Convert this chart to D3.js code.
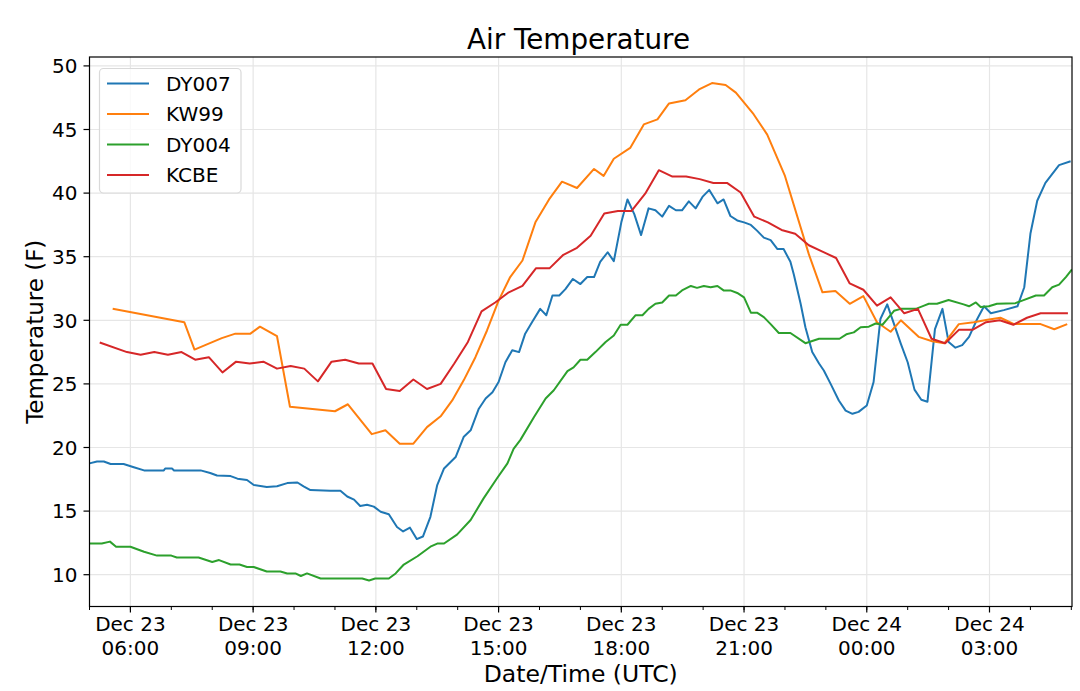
<!DOCTYPE html>
<html>
<head>
    <meta charset="utf-8"/>
    <title>Air Temperature</title>
    <script src="https://d3js.org/d3.v7.min.js"></script>
    <style>
        body { margin: 0; background: #fff; }
        svg text { font-family: "DejaVu Sans", sans-serif; fill: #000; }
    </style>
</head>
<body>
<div id="chart"></div>
<script>
    // Data (times are UTC, "MM-DD HH:MM")
    var dy007Times = ["12-23 05:00","12-23 05:11","12-23 05:21","12-23 05:31","12-23 05:50","12-23 06:05","12-23 06:20","12-23 06:49","12-23 06:51","12-23 07:01","12-23 07:04","12-23 07:43","12-23 07:57","12-23 08:07","12-23 08:27","12-23 08:37","12-23 08:51","12-23 09:01","12-23 09:20","12-23 09:35","12-23 09:50","12-23 10:05","12-23 10:14","12-23 10:24","12-23 10:53","12-23 11:08","12-23 11:18","12-23 11:28","12-23 11:37","12-23 11:47","12-23 11:57","12-23 12:07","12-23 12:19","12-23 12:31","12-23 12:40","12-23 12:50","12-23 13:00","12-23 13:09","12-23 13:20","12-23 13:30","12-23 13:40","12-23 13:57","12-23 14:09","12-23 14:19","12-23 14:31","12-23 14:41","12-23 14:51","12-23 15:00","12-23 15:10","12-23 15:20","12-23 15:30","12-23 15:39","12-23 15:49","12-23 16:01","12-23 16:10","12-23 16:19","12-23 16:29","12-23 16:38","12-23 16:49","12-23 17:00","12-23 17:10","12-23 17:20","12-23 17:29","12-23 17:40","12-23 17:49","12-23 18:00","12-23 18:09","12-23 18:19","12-23 18:29","12-23 18:40","12-23 18:50","12-23 19:00","12-23 19:10","12-23 19:20","12-23 19:29","12-23 19:39","12-23 19:49","12-23 19:59","12-23 20:09","12-23 20:21","12-23 20:30","12-23 20:40","12-23 20:50","12-23 21:00","12-23 21:10","12-23 21:19","12-23 21:29","12-23 21:39","12-23 21:49","12-23 21:58","12-23 22:08","12-23 22:13","12-23 22:23","12-23 22:30","12-23 22:40","12-23 22:50","12-23 22:57","12-23 23:07","12-23 23:19","12-23 23:29","12-23 23:39","12-23 23:48","12-24 00:00","12-24 00:10","12-24 00:20","12-24 00:30","12-24 00:40","12-24 00:50","12-24 01:00","12-24 01:10","12-24 01:20","12-24 01:29","12-24 01:40","12-24 01:51","12-24 02:00","12-24 02:10","12-24 02:20","12-24 02:30","12-24 02:42","12-24 02:52","12-24 03:02","12-24 03:21","12-24 03:41","12-24 03:51","12-24 04:00","12-24 04:10","12-24 04:22","12-24 04:42","12-24 04:59"];
    var dy007Temps = [18.75,18.9,18.9,18.7,18.7,18.45,18.2,18.2,18.35,18.35,18.2,18.2,18.0,17.8,17.75,17.55,17.45,17.05,16.9,16.95,17.2,17.25,16.95,16.65,16.6,16.6,16.15,15.9,15.4,15.5,15.35,14.95,14.75,13.75,13.4,13.7,12.8,13.0,14.55,17.05,18.35,19.25,20.85,21.35,23.05,23.85,24.35,25.15,26.7,27.65,27.5,28.95,29.85,30.9,30.4,31.95,31.95,32.45,33.25,32.85,33.4,33.4,34.6,35.35,34.65,37.7,39.5,38.35,36.7,38.8,38.65,38.15,39.0,38.65,38.65,39.35,38.8,39.7,40.25,39.2,39.5,38.2,37.85,37.7,37.5,37.05,36.5,36.3,35.6,35.6,34.6,33.6,31.3,29.45,27.5,26.6,26.05,25.0,23.7,22.9,22.65,22.8,23.3,25.15,30.1,31.25,29.7,28.15,26.7,24.55,23.75,23.6,29.3,30.9,28.3,27.85,28.05,28.7,30.1,31.1,30.55,30.8,31.1,32.6,36.8,39.4,40.8,42.2,42.5];

    var kw99Times = ["12-23 05:34","12-23 07:19","12-23 07:34","12-23 08:14","12-23 08:34","12-23 08:56","12-23 09:10","12-23 09:35","12-23 09:54","12-23 11:00","12-23 11:19","12-23 11:54","12-23 12:14","12-23 12:35","12-23 12:55","12-23 13:15","12-23 13:35","12-23 13:52","12-23 14:09","12-23 14:26","12-23 14:43","12-23 15:00","12-23 15:17","12-23 15:35","12-23 15:54","12-23 16:14","12-23 16:33","12-23 16:55","12-23 17:20","12-23 17:34","12-23 17:49","12-23 18:13","12-23 18:33","12-23 18:53","12-23 19:10","12-23 19:34","12-23 19:54","12-23 20:13","12-23 20:33","12-23 20:48","12-23 21:14","12-23 21:34","12-23 22:00","12-23 22:35","12-23 22:55","12-23 23:14","12-23 23:35","12-23 23:55","12-24 00:15","12-24 00:35","12-24 00:50","12-24 01:16","12-24 01:36","12-24 01:54","12-24 02:15","12-24 02:37","12-24 02:57","12-24 03:16","12-24 03:36","12-24 03:58","12-24 04:15","12-24 04:35","12-24 04:54"];
    var kw99Temps = [30.9,29.85,27.7,28.6,28.95,28.95,29.5,28.75,23.2,22.85,23.4,21.05,21.35,20.3,20.3,21.6,22.45,23.7,25.3,27.1,29.2,31.55,33.4,34.7,37.7,39.5,40.9,40.4,41.9,41.35,42.7,43.55,45.4,45.8,47.05,47.3,48.15,48.65,48.5,47.9,46.2,44.6,41.35,35.2,32.2,32.3,31.3,31.9,29.85,29.1,30.0,28.7,28.35,28.2,29.7,29.85,30.05,30.2,29.7,29.7,29.7,29.3,29.7];

    var dy004Times = ["12-23 05:00","12-23 05:18","12-23 05:30","12-23 05:39","12-23 06:00","12-23 06:20","12-23 06:39","12-23 07:00","12-23 07:08","12-23 07:40","12-23 08:00","12-23 08:10","12-23 08:27","12-23 08:40","12-23 08:51","12-23 09:01","12-23 09:20","12-23 09:40","12-23 09:50","12-23 10:02","12-23 10:10","12-23 10:19","12-23 10:39","12-23 11:40","12-23 11:50","12-23 11:59","12-23 12:19","12-23 12:29","12-23 12:41","12-23 13:01","12-23 13:20","12-23 13:30","12-23 13:40","12-23 13:59","12-23 14:19","12-23 14:38","12-23 14:58","12-23 15:13","12-23 15:22","12-23 15:32","12-23 15:52","12-23 16:09","12-23 16:21","12-23 16:41","12-23 16:50","12-23 17:00","12-23 17:10","12-23 17:22","12-23 17:37","12-23 17:49","12-23 17:59","12-23 18:09","12-23 18:21","12-23 18:31","12-23 18:40","12-23 18:50","12-23 19:00","12-23 19:10","12-23 19:20","12-23 19:29","12-23 19:42","12-23 19:51","12-23 20:01","12-23 20:11","12-23 20:21","12-23 20:30","12-23 20:40","12-23 20:50","12-23 21:00","12-23 21:10","12-23 21:19","12-23 21:29","12-23 21:39","12-23 21:51","12-23 22:08","12-23 22:30","12-23 22:50","12-23 23:20","12-23 23:30","12-23 23:41","12-23 23:51","12-24 00:03","12-24 00:13","12-24 00:23","12-24 00:30","12-24 00:40","12-24 00:50","12-24 01:12","12-24 01:24","12-24 01:31","12-24 01:43","12-24 02:00","12-24 02:22","12-24 02:30","12-24 02:40","12-24 02:47","12-24 02:59","12-24 03:11","12-24 03:38","12-24 03:48","12-24 04:08","12-24 04:20","12-24 04:32","12-24 04:42","12-24 04:52","12-24 05:01"];
    var dy004Temps = [12.45,12.45,12.6,12.2,12.2,11.8,11.5,11.5,11.35,11.35,11.0,11.15,10.8,10.8,10.6,10.6,10.25,10.25,10.1,10.1,9.9,10.1,9.7,9.7,9.55,9.7,9.7,10.1,10.8,11.45,12.2,12.45,12.45,13.15,14.3,16.0,17.6,18.75,19.9,20.6,22.4,23.85,24.5,26.0,26.3,26.9,26.9,27.5,28.3,28.8,29.65,29.65,30.4,30.4,30.9,31.3,31.4,31.95,31.95,32.35,32.7,32.55,32.7,32.6,32.7,32.35,32.35,32.15,31.8,30.6,30.6,30.25,29.7,29.0,29.0,28.2,28.55,28.55,28.9,29.05,29.45,29.5,29.75,29.65,30.1,30.75,30.9,30.9,31.15,31.3,31.3,31.6,31.25,31.1,31.4,31.05,31.1,31.3,31.35,31.55,31.95,31.95,32.6,32.8,33.4,34.0];

    var kcbeTimes = ["12-23 05:15","12-23 05:55","12-23 06:15","12-23 06:35","12-23 06:55","12-23 07:15","12-23 07:35","12-23 07:55","12-23 08:15","12-23 08:35","12-23 08:55","12-23 09:15","12-23 09:35","12-23 09:55","12-23 10:15","12-23 10:35","12-23 10:55","12-23 11:15","12-23 11:35","12-23 11:55","12-23 12:15","12-23 12:35","12-23 12:55","12-23 13:15","12-23 13:35","12-23 13:55","12-23 14:15","12-23 14:35","12-23 14:55","12-23 15:15","12-23 15:35","12-23 15:55","12-23 16:15","12-23 16:35","12-23 16:55","12-23 17:15","12-23 17:35","12-23 17:55","12-23 18:15","12-23 18:35","12-23 18:55","12-23 19:15","12-23 19:35","12-23 19:55","12-23 20:15","12-23 20:35","12-23 20:55","12-23 21:15","12-23 21:35","12-23 21:55","12-23 22:15","12-23 22:35","12-23 22:55","12-23 23:15","12-23 23:35","12-23 23:55","12-24 00:15","12-24 00:35","12-24 00:55","12-24 01:15","12-24 01:35","12-24 01:55","12-24 02:15","12-24 02:35","12-24 02:55","12-24 03:15","12-24 03:35","12-24 03:55","12-24 04:15","12-24 04:35","12-24 04:55"];
    var kcbeTemps = [28.25,27.5,27.3,27.5,27.3,27.5,26.9,27.1,25.9,26.75,26.6,26.75,26.2,26.4,26.2,25.2,26.75,26.9,26.6,26.6,24.6,24.45,25.35,24.6,25.0,26.6,28.3,30.7,31.4,32.2,32.7,34.1,34.1,35.15,35.7,36.65,38.4,38.6,38.6,39.95,41.8,41.3,41.3,41.1,40.8,40.8,40.05,38.15,37.7,37.1,36.8,35.9,35.4,34.9,32.9,32.4,31.15,31.8,30.55,30.9,28.55,28.2,29.25,29.25,29.85,30.0,29.65,30.2,30.55,30.55,30.55];

    var seriesNames = ["DY007", "KW99", "DY004", "KCBE"];
    var seriesColors = ["#1f77b4", "#ff7f0e", "#2ca02c", "#d62728"];
    var yTicks = [10, 15, 20, 25, 30, 35, 40, 45, 50];

    var parseTime = d3.utcParse("%m-%d %H:%M");

    function toPoints(times, temps) {
        return times.map(function(t, i) { return { time: parseTime(t), temp: temps[i] }; });
    }

    var series = [
        toPoints(dy007Times, dy007Temps),
        toPoints(kw99Times, kw99Temps),
        toPoints(dy004Times, dy004Temps),
        toPoints(kcbeTimes, kcbeTemps)
    ];

    var W = 1080, H = 691;
    var pLeft = 89.5, pRight = 1072, pTop = 57, pBottom = 606.5;

    var svg = d3.select("#chart")
                .append("svg")
                .attr("width", W)
                .attr("height", H);

    var x = d3.scaleUtc()
              .domain([parseTime("12-23 05:00"), parseTime("12-24 05:01")])
              .range([pLeft, pRight]);

    var y = d3.scaleLinear()
              .domain([7.5, 50.7])
              .range([pBottom, pTop]);

    var majorTicks = d3.utcHour.every(3).range(x.domain()[0], x.domain()[1]);
    var minorTicks = d3.utcHour.every(1).range(x.domain()[0], x.domain()[1]);

    // grid
    svg.append("g")
       .selectAll("line")
       .data(majorTicks)
       .enter()
       .append("line")
       .attr("x1", function(d) { return x(d); })
       .attr("x2", function(d) { return x(d); })
       .attr("y1", pTop)
       .attr("y2", pBottom)
       .attr("stroke", "#e6e6e6")
       .attr("stroke-width", 1.2);

    svg.append("g")
       .selectAll("line")
       .data(yTicks)
       .enter()
       .append("line")
       .attr("x1", pLeft)
       .attr("x2", pRight)
       .attr("y1", function(d) { return y(d); })
       .attr("y2", function(d) { return y(d); })
       .attr("stroke", "#e6e6e6")
       .attr("stroke-width", 1.2);

    // lines
    var line = d3.line()
                 .x(function(d) { return x(d.time); })
                 .y(function(d) { return y(d.temp); });

    svg.append("defs").append("clipPath").attr("id", "clip")
       .append("rect").attr("x", pLeft).attr("y", pTop)
       .attr("width", pRight - pLeft).attr("height", pBottom - pTop);

    svg.append("g")
       .attr("clip-path", "url(#clip)")
       .selectAll("path")
       .data(series)
       .enter()
       .append("path")
       .attr("d", line)
       .attr("fill", "none")
       .attr("stroke", function(d, i) { return seriesColors[i]; })
       .attr("stroke-width", 2)
       .attr("stroke-linejoin", "round");

    // frame
    svg.append("rect")
       .attr("x", pLeft)
       .attr("y", pTop)
       .attr("width", pRight - pLeft)
       .attr("height", pBottom - pTop)
       .attr("fill", "none")
       .attr("stroke", "#000")
       .attr("stroke-width", 1.2);

    // x axis ticks
    svg.append("g")
       .selectAll("line")
       .data(minorTicks)
       .enter()
       .append("line")
       .attr("x1", function(d) { return x(d); })
       .attr("x2", function(d) { return x(d); })
       .attr("y1", pBottom)
       .attr("y2", pBottom + 3.5)
       .attr("stroke", "#000")
       .attr("stroke-width", 1);

    svg.append("g")
       .selectAll("line")
       .data(majorTicks)
       .enter()
       .append("line")
       .attr("x1", function(d) { return x(d); })
       .attr("x2", function(d) { return x(d); })
       .attr("y1", pBottom)
       .attr("y2", pBottom + 6)
       .attr("stroke", "#000")
       .attr("stroke-width", 1.2);

    var fmtDay = d3.utcFormat("%b %d");
    var fmtHour = d3.utcFormat("%H:%M");

    var xl = svg.append("g")
                .selectAll("text")
                .data(majorTicks)
                .enter()
                .append("text")
                .attr("text-anchor", "middle")
                .style("font-size", "20px");
    xl.append("tspan")
      .attr("x", function(d) { return x(d); })
      .attr("y", 631)
      .text(function(d) { return fmtDay(d); });
    xl.append("tspan")
      .attr("x", function(d) { return x(d); })
      .attr("y", 655)
      .text(function(d) { return fmtHour(d); });

    // y axis ticks
    svg.append("g")
       .selectAll("line")
       .data(yTicks)
       .enter()
       .append("line")
       .attr("x1", pLeft - 6)
       .attr("x2", pLeft)
       .attr("y1", function(d) { return y(d); })
       .attr("y2", function(d) { return y(d); })
       .attr("stroke", "#000")
       .attr("stroke-width", 1.2);

    svg.append("g")
       .selectAll("text")
       .data(yTicks)
       .enter()
       .append("text")
       .attr("x", pLeft - 12)
       .attr("y", function(d) { return y(d) + 7.3; })
       .attr("text-anchor", "end")
       .style("font-size", "20px")
       .text(function(d) { return d; });

    // titles
    svg.append("text")
       .attr("x", 578.5)
       .attr("y", 48.5)
       .attr("text-anchor", "middle")
       .style("font-size", "27.8px")
       .text("Air Temperature");

    svg.append("text")
       .attr("x", (pLeft + pRight) / 2)
       .attr("y", 682)
       .attr("text-anchor", "middle")
       .style("font-size", "23.5px")
       .text("Date/Time (UTC)");

    svg.append("text")
       .attr("transform", "translate(43," + ((pTop + pBottom) / 2) + ") rotate(-90)")
       .attr("text-anchor", "middle")
       .style("font-size", "23px")
       .text("Temperature (F)");

    // legend
    var lg = svg.append("g");
    lg.append("rect")
      .attr("x", 99.5)
      .attr("y", 68.5)
      .attr("width", 141.5)
      .attr("height", 124.5)
      .attr("rx", 4)
      .attr("fill", "#fff")
      .attr("fill-opacity", 0.8)
      .attr("stroke", "#d9d9d9")
      .attr("stroke-width", 1.2);

    var rows = lg.selectAll("g")
                 .data(seriesNames)
                 .enter()
                 .append("g")
                 .attr("transform", function(d, i) { return "translate(0," + (83.5 + i * 30.5) + ")"; });
    rows.append("line")
        .attr("x1", 107)
        .attr("x2", 149)
        .attr("stroke", function(d, i) { return seriesColors[i]; })
        .attr("stroke-width", 2);
    rows.append("text")
        .attr("x", 166)
        .attr("y", 7)
        .style("font-size", "20px")
        .text(function(d) { return d; });
</script>
</body>
</html>
